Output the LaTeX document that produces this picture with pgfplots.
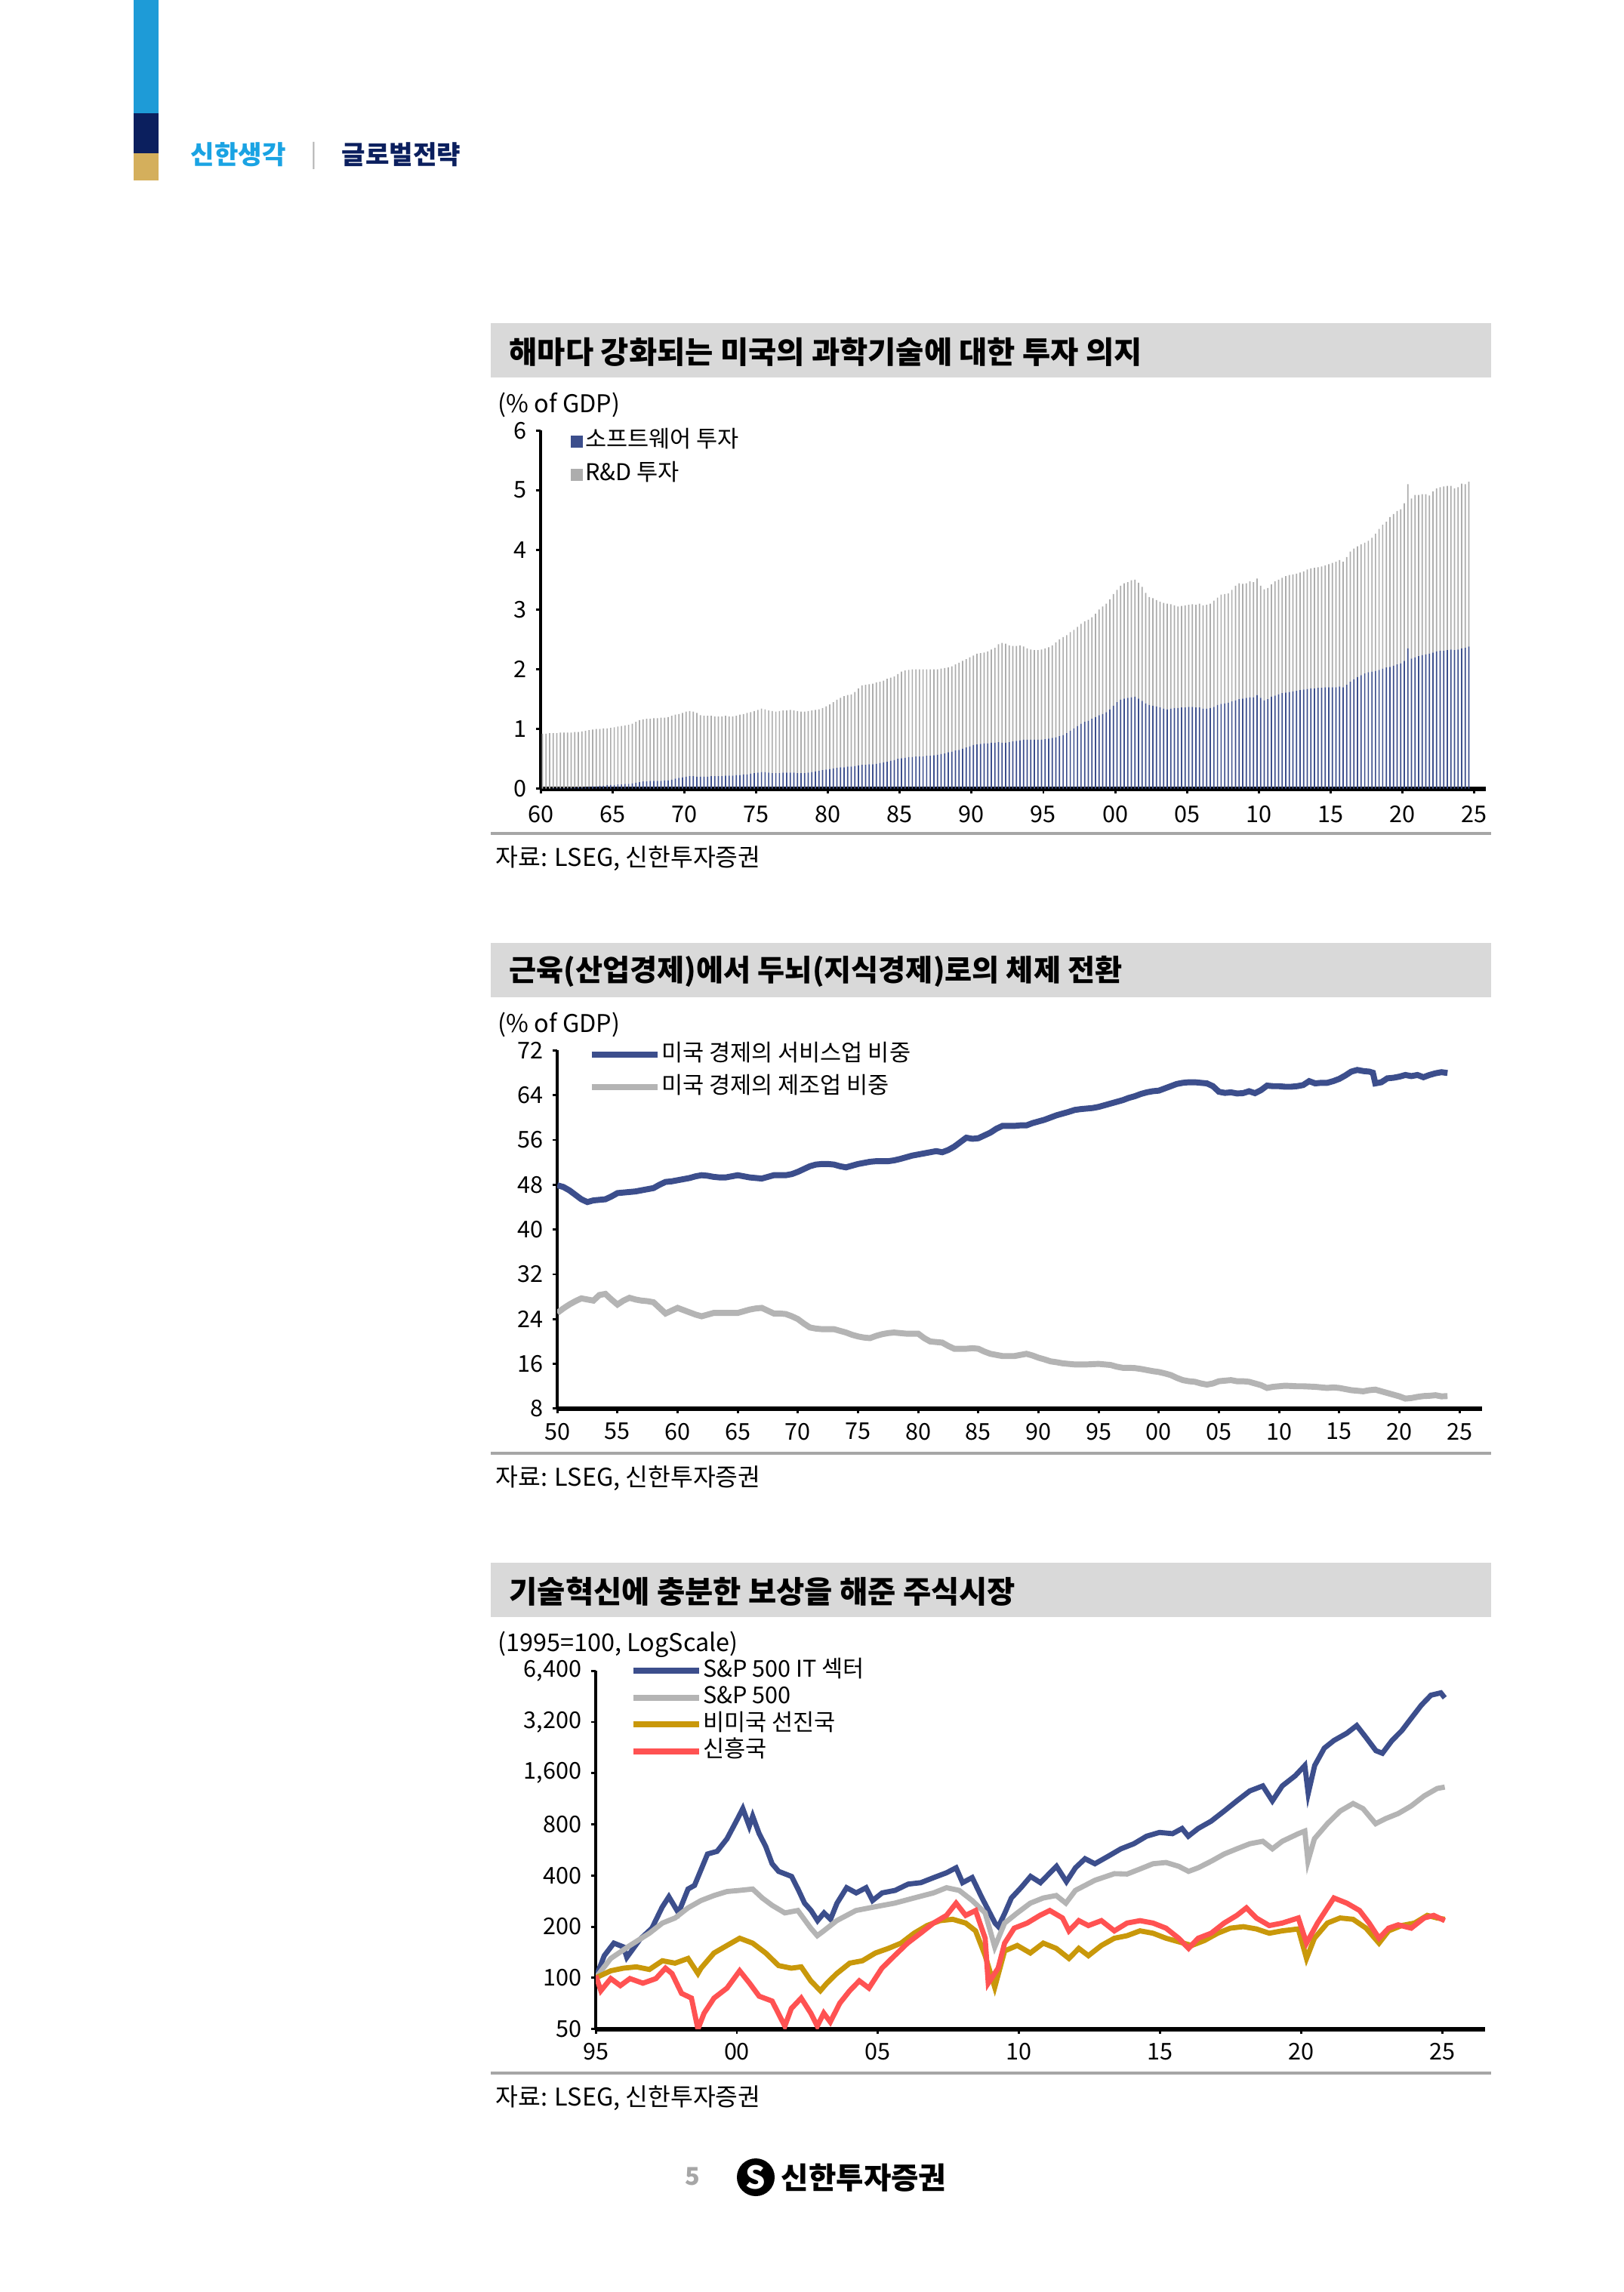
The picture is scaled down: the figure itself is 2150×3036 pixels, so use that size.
\documentclass[border=0pt]{standalone}
\usepackage{fontspec}
\usepackage{pgfplots}
\pgfplotsset{compat=1.18}
\usepackage{pgfplotstable}
\setmainfont{Noto Sans CJK KR}

\definecolor{navy}{HTML}{3C4E8C}
\definecolor{lgray}{HTML}{B4B4B4}
\definecolor{bargray}{HTML}{ADADAD}
\definecolor{gold}{HTML}{C9980A}
\definecolor{emred}{HTML}{FF5252}
\definecolor{boxgray}{HTML}{D9D9D9}
\definecolor{rulegray}{HTML}{A6A6A6}
\definecolor{hblue}{HTML}{1E9BD7}
\definecolor{hnavy}{HTML}{0B1F5E}
\definecolor{hgold}{HTML}{D4AF5C}
\definecolor{tblue}{HTML}{1AA3E3}

\newcommand\ticksize{\fontsize{8.5}{10}\selectfont}

% quarterly, % of GDP: x, software, R&D
\pgfplotstableread[row sep=\\]{
x s r\\
1960.125 0.00 0.92\\ 1960.375 0.00 0.92\\ 1960.625 0.00 0.93\\ 1960.875 0.01 0.92\\
1961.125 0.01 0.92\\ 1961.375 0.01 0.93\\ 1961.625 0.01 0.93\\ 1961.875 0.01 0.93\\
1962.125 0.01 0.93\\ 1962.375 0.02 0.93\\ 1962.625 0.02 0.93\\ 1962.875 0.02 0.94\\
1963.125 0.03 0.94\\ 1963.375 0.03 0.95\\ 1963.625 0.04 0.95\\ 1963.875 0.04 0.96\\
1964.125 0.05 0.95\\ 1964.375 0.05 0.96\\ 1964.625 0.06 0.95\\ 1964.875 0.06 0.96\\
1965.125 0.06 0.97\\ 1965.375 0.07 0.97\\ 1965.625 0.07 0.98\\ 1965.875 0.08 0.98\\
1966.125 0.08 0.99\\ 1966.375 0.09 1.00\\ 1966.625 0.10 1.02\\ 1966.875 0.11 1.04\\
1967.125 0.12 1.04\\ 1967.375 0.12 1.05\\ 1967.625 0.13 1.04\\ 1967.875 0.13 1.05\\
1968.125 0.13 1.05\\ 1968.375 0.13 1.06\\ 1968.625 0.14 1.05\\ 1968.875 0.14 1.06\\
1969.125 0.15 1.07\\ 1969.375 0.17 1.07\\ 1969.625 0.18 1.07\\ 1969.875 0.19 1.08\\
1970.125 0.20 1.09\\ 1970.375 0.21 1.09\\ 1970.625 0.21 1.08\\ 1970.875 0.20 1.07\\
1971.125 0.20 1.03\\ 1971.375 0.20 1.02\\ 1971.625 0.20 1.02\\ 1971.875 0.21 1.01\\
1972.125 0.21 1.00\\ 1972.375 0.21 1.00\\ 1972.625 0.21 1.00\\ 1972.875 0.22 1.00\\
1973.125 0.22 0.99\\ 1973.375 0.22 0.99\\ 1973.625 0.23 0.99\\ 1973.875 0.23 1.01\\
1974.125 0.24 1.01\\ 1974.375 0.24 1.03\\ 1974.625 0.25 1.03\\ 1974.875 0.26 1.04\\
1975.125 0.27 1.05\\ 1975.375 0.28 1.06\\ 1975.625 0.28 1.05\\ 1975.875 0.27 1.04\\
1976.125 0.26 1.04\\ 1976.375 0.26 1.03\\ 1976.625 0.26 1.04\\ 1976.875 0.27 1.04\\
1977.125 0.27 1.04\\ 1977.375 0.27 1.05\\ 1977.625 0.27 1.04\\ 1977.875 0.26 1.04\\
1978.125 0.26 1.03\\ 1978.375 0.26 1.03\\ 1978.625 0.27 1.03\\ 1978.875 0.28 1.03\\
1979.125 0.29 1.03\\ 1979.375 0.30 1.03\\ 1979.625 0.31 1.04\\ 1979.875 0.32 1.06\\
1980.125 0.33 1.08\\ 1980.375 0.34 1.11\\ 1980.625 0.35 1.14\\ 1980.875 0.36 1.16\\
1981.125 0.36 1.19\\ 1981.375 0.37 1.20\\ 1981.625 0.37 1.21\\ 1981.875 0.38 1.24\\
1982.125 0.39 1.29\\ 1982.375 0.40 1.33\\ 1982.625 0.40 1.34\\ 1982.875 0.41 1.34\\
1983.125 0.41 1.35\\ 1983.375 0.42 1.36\\ 1983.625 0.43 1.36\\ 1983.875 0.44 1.37\\
1984.125 0.45 1.39\\ 1984.375 0.47 1.39\\ 1984.625 0.48 1.40\\ 1984.875 0.50 1.42\\
1985.125 0.51 1.45\\ 1985.375 0.52 1.46\\ 1985.625 0.53 1.46\\ 1985.875 0.53 1.47\\
1986.125 0.54 1.46\\ 1986.375 0.54 1.46\\ 1986.625 0.54 1.46\\ 1986.875 0.55 1.45\\
1987.125 0.55 1.45\\ 1987.375 0.56 1.44\\ 1987.625 0.57 1.43\\ 1987.875 0.58 1.43\\
1988.125 0.59 1.43\\ 1988.375 0.61 1.42\\ 1988.625 0.62 1.43\\ 1988.875 0.64 1.44\\
1989.125 0.65 1.46\\ 1989.375 0.67 1.47\\ 1989.625 0.69 1.48\\ 1989.875 0.71 1.49\\
1990.125 0.73 1.50\\ 1990.375 0.74 1.52\\ 1990.625 0.75 1.52\\ 1990.875 0.76 1.52\\
1991.125 0.76 1.54\\ 1991.375 0.77 1.56\\ 1991.625 0.77 1.59\\ 1991.875 0.78 1.64\\
1992.125 0.77 1.67\\ 1992.375 0.77 1.66\\ 1992.625 0.78 1.62\\ 1992.875 0.79 1.60\\
1993.125 0.80 1.59\\ 1993.375 0.81 1.59\\ 1993.625 0.82 1.56\\ 1993.875 0.82 1.53\\
1994.125 0.82 1.51\\ 1994.375 0.82 1.50\\ 1994.625 0.82 1.50\\ 1994.875 0.82 1.51\\
1995.125 0.83 1.52\\ 1995.375 0.84 1.53\\ 1995.625 0.85 1.55\\ 1995.875 0.86 1.59\\
1996.125 0.88 1.62\\ 1996.375 0.90 1.64\\ 1996.625 0.93 1.64\\ 1996.875 0.97 1.65\\
1997.125 1.01 1.65\\ 1997.375 1.05 1.66\\ 1997.625 1.09 1.67\\ 1997.875 1.12 1.68\\
1998.125 1.14 1.69\\ 1998.375 1.17 1.70\\ 1998.625 1.20 1.73\\ 1998.875 1.23 1.77\\
1999.125 1.25 1.80\\ 1999.375 1.28 1.82\\ 1999.625 1.33 1.84\\ 1999.875 1.39 1.87\\
2000.125 1.45 1.88\\ 2000.375 1.49 1.91\\ 2000.625 1.51 1.93\\ 2000.875 1.52 1.94\\
2001.125 1.53 1.96\\ 2001.375 1.54 1.96\\ 2001.625 1.51 1.94\\ 2001.875 1.47 1.91\\
2002.125 1.43 1.85\\ 2002.375 1.40 1.81\\ 2002.625 1.39 1.80\\ 2002.875 1.38 1.78\\
2003.125 1.36 1.77\\ 2003.375 1.34 1.77\\ 2003.625 1.33 1.77\\ 2003.875 1.34 1.75\\
2004.125 1.35 1.72\\ 2004.375 1.35 1.70\\ 2004.625 1.36 1.70\\ 2004.875 1.36 1.71\\
2005.125 1.37 1.71\\ 2005.375 1.37 1.72\\ 2005.625 1.36 1.72\\ 2005.875 1.36 1.74\\
2006.125 1.34 1.73\\ 2006.375 1.34 1.74\\ 2006.625 1.35 1.75\\ 2006.875 1.37 1.78\\
2007.125 1.40 1.80\\ 2007.375 1.42 1.83\\ 2007.625 1.43 1.83\\ 2007.875 1.44 1.83\\
2008.125 1.46 1.87\\ 2008.375 1.48 1.92\\ 2008.625 1.50 1.94\\ 2008.875 1.51 1.92\\
2009.125 1.52 1.92\\ 2009.375 1.53 1.94\\ 2009.625 1.53 1.93\\ 2009.875 1.57 1.95\\
2010.125 1.52 1.88\\ 2010.375 1.48 1.86\\ 2010.625 1.50 1.86\\ 2010.875 1.54 1.88\\
2011.125 1.56 1.91\\ 2011.375 1.58 1.92\\ 2011.625 1.60 1.93\\ 2011.875 1.61 1.95\\
2012.125 1.62 1.96\\ 2012.375 1.63 1.96\\ 2012.625 1.64 1.96\\ 2012.875 1.65 1.97\\
2013.125 1.66 1.98\\ 2013.375 1.67 2.00\\ 2013.625 1.68 2.01\\ 2013.875 1.68 2.02\\
2014.125 1.69 2.02\\ 2014.375 1.69 2.03\\ 2014.625 1.70 2.04\\ 2014.875 1.70 2.06\\
2015.125 1.70 2.08\\ 2015.375 1.70 2.10\\ 2015.625 1.71 2.12\\ 2015.875 1.70 2.10\\
2016.125 1.74 2.14\\ 2016.375 1.79 2.18\\ 2016.625 1.83 2.19\\ 2016.875 1.87 2.19\\
2017.125 1.90 2.19\\ 2017.375 1.93 2.19\\ 2017.625 1.95 2.20\\ 2017.875 1.96 2.24\\
2018.125 1.97 2.30\\ 2018.375 1.99 2.36\\ 2018.625 2.01 2.41\\ 2018.875 2.03 2.44\\
2019.125 2.04 2.51\\ 2019.375 2.06 2.54\\ 2019.625 2.08 2.57\\ 2019.875 2.10 2.58\\
2020.125 2.14 2.64\\ 2020.375 2.35 2.75\\ 2020.625 2.18 2.68\\ 2020.875 2.20 2.72\\
2021.125 2.22 2.70\\ 2021.375 2.24 2.69\\ 2021.625 2.25 2.68\\ 2021.875 2.26 2.65\\
2022.125 2.28 2.70\\ 2022.375 2.30 2.73\\ 2022.625 2.31 2.74\\ 2022.875 2.31 2.75\\
2023.125 2.32 2.75\\ 2023.375 2.33 2.74\\ 2023.625 2.32 2.71\\ 2023.875 2.33 2.72\\
2024.125 2.35 2.76\\ 2024.375 2.36 2.74\\ 2024.625 2.38 2.76\\
}\rdtable

\pgfplotsset{
  pagechart/.style={
    scale only axis,
    anchor=south west,
    axis x line=bottom,
    axis y line=left,
    x axis line style={-, line width=1.6pt},
    y axis line style={-, line width=1pt},
    tick align=outside,
    major tick length=0.06cm,
    tick style={black, line width=0.8pt},
    ticklabel style={font=\ticksize},
    /pgf/number format/assume math mode=true,
    legend cell align=left,
    legend style={draw=none, fill=none, anchor=north west, inner sep=0pt,
      font=\ticksize, column sep=0.4pt,
      nodes={inner sep=0pt, text height=6.5pt, text depth=2pt}},
  },
  linelegend/.style={legend image code/.code={%
    \draw[##1, line width=2.2pt] (0cm,0cm) -- (0.85cm,0cm);}},
  sqlegend/.style={legend image code/.code={%
    \fill[##1] (0cm,-0.078cm) rectangle (0.156cm,0.078cm);}},
}

\begin{document}
\begin{tikzpicture}[x=0.0097674cm, y=-0.0097674cm]
\fill[white] (0,0) rectangle (2150,3036);

% page header
\fill[hblue] (177,0) rectangle (210,150);
\fill[hnavy] (177,150) rectangle (210,203);
\fill[hgold] (177,203) rectangle (210,239);
\node[anchor=west, inner sep=0pt, text=tblue, font=\fontsize{9.5}{11}\bfseries] at (252,205) {신한생각};
\node[anchor=center, inner sep=0pt, text=lgray, font=\fontsize{9}{11}\selectfont] at (416,206) {|};
\node[anchor=west, inner sep=0pt, text=hnavy, font=\fontsize{9.5}{11}\bfseries] at (452,205) {글로벌전략};

% chart panels: title bars, unit labels, source lines
\foreach \t/\fs/\ttl/\unit in {428/11.25/{해마다 강화되는 미국의 과학기술에 대한 투자 의지}/{(\% of GDP)},
  1249/10.9/{근육(산업경제)에서 두뇌(지식경제)로의 체제 전환}/{(\% of GDP)},
  2070/11.25/{기술혁신에 충분한 보상을 해준 주식시장}/{(1995=100, LogScale)}}{
  \fill[boxgray] (650,\t) rectangle (1975,\t+72);
  \node[anchor=west, inner sep=0pt, font=\fontsize{\fs}{13}\bfseries] at (674,\t+38) {\ttl};
  \node[anchor=west, inner sep=0pt, font=\fontsize{9}{11}\selectfont] at (659,\t+108) {\unit};
  \draw[rulegray, line width=1pt] (650,\t+676) -- (1975,\t+676);
  \node[anchor=west, inner sep=0pt, font=\fontsize{9}{11}\selectfont] at (656,\t+709) {자료: LSEG, 신한투자증권};
}

% chart 1
\begin{axis}[pagechart,
  at={(6.993cm,-10.202cm)}, width=12.229cm, height=4.635cm,
  ybar stacked, bar width=0.09,
  xmin=1960, xmax=2025.83, ymin=0, ymax=6,
  xtick={1960,1965,...,2025},
  xticklabels={60,65,70,75,80,85,90,95,00,05,10,15,20,25},
  xticklabel style={yshift=-1pt},
  ytick={0,1,...,6},
  legend style={at={(0.031,1.003)}, row sep=3.7pt, column sep=1pt},
]
\addplot[fill=navy, draw=none, sqlegend] table[x=x, y=s] {\rdtable};
\addlegendentry{소프트웨어 투자}
\addplot[fill=bargray, draw=none, sqlegend] table[x=x, y=r] {\rdtable};
\addlegendentry{R\&D 투자}
\end{axis}

% chart 2
\begin{axis}[pagechart,
  at={(7.208cm,-18.221cm)}, width=11.965cm, height=4.635cm,
  xmin=1950, xmax=2026.9, ymin=8, ymax=72,
  xtick={1950,1955,...,2025},
  xticklabels={50,55,60,65,70,75,80,85,90,95,00,05,10,15,20,25},
  ytick={8,16,...,72},
  legend style={at={(0.0333,1.021)}, row sep=3.4pt},
]
\addplot[navy, line width=2.2pt, linelegend] coordinates {
(1950.0,47.9) (1950.5,47.6) (1951.0,47.0) (1951.5,46.2) (1952.0,45.4) (1952.5,44.9)
(1953.0,45.2) (1953.5,45.3) (1954.0,45.4) (1954.5,45.9) (1955.0,46.5) (1955.5,46.6)
(1956.0,46.7) (1956.5,46.8) (1957.0,47.0) (1957.5,47.2) (1958.0,47.4) (1958.5,48.0)
(1959.0,48.5) (1959.5,48.6) (1960.0,48.8) (1960.5,49.0) (1961.0,49.2) (1961.5,49.5)
(1962.0,49.7) (1962.5,49.6) (1963.0,49.4) (1963.5,49.3) (1964.0,49.3) (1964.5,49.5)
(1965.0,49.7) (1965.5,49.5) (1966.0,49.3) (1966.5,49.2) (1967.0,49.1) (1967.5,49.4)
(1968.0,49.7) (1968.5,49.7) (1969.0,49.7) (1969.5,49.9) (1970.0,50.3) (1970.5,50.8)
(1971.0,51.3) (1971.5,51.6) (1972.0,51.7) (1972.5,51.7) (1973.0,51.6) (1973.5,51.3)
(1974.0,51.1) (1974.5,51.4) (1975.0,51.7) (1975.5,51.9) (1976.0,52.1) (1976.5,52.2)
(1977.0,52.2) (1977.5,52.2) (1978.0,52.35) (1978.5,52.6) (1979.0,52.9) (1979.5,53.2)
(1980.0,53.4) (1980.5,53.6) (1981.0,53.8) (1981.5,54.0) (1982.0,53.8) (1982.5,54.2)
(1983.0,54.8) (1983.5,55.6) (1984.0,56.4) (1984.5,56.2) (1985.0,56.3) (1985.5,56.8)
(1986.0,57.3) (1986.5,58.0) (1987.0,58.5) (1987.5,58.5) (1988.0,58.5) (1988.5,58.6)
(1989.0,58.6) (1989.5,59.0) (1990.0,59.3) (1990.5,59.6) (1991.0,60.0) (1991.5,60.4)
(1992.0,60.7) (1992.5,61.0) (1993.0,61.35) (1993.5,61.5) (1994.0,61.6) (1994.5,61.7)
(1995.0,61.9) (1995.5,62.2) (1996.0,62.5) (1996.5,62.8) (1997.0,63.1) (1997.5,63.5)
(1998.0,63.8) (1998.5,64.2) (1999.0,64.5) (1999.5,64.7) (2000.0,64.8) (2000.5,65.2)
(2001.0,65.6) (2001.5,66.0) (2002.0,66.2) (2002.5,66.3) (2003.0,66.3) (2003.5,66.2)
(2004.0,66.1) (2004.5,65.6) (2005.0,64.6) (2005.5,64.4) (2006.0,64.5) (2006.5,64.3)
(2007.0,64.35) (2007.5,64.7) (2008.0,64.35) (2008.5,64.9) (2009.0,65.7) (2009.5,65.6)
(2010.0,65.6) (2010.5,65.5) (2011.0,65.5) (2011.5,65.6) (2012.0,65.8) (2012.5,66.5)
(2013.0,66.1) (2013.5,66.2) (2014.0,66.2) (2014.5,66.5) (2015.0,66.9) (2015.5,67.5)
(2016.0,68.2) (2016.5,68.5) (2017.0,68.3) (2017.5,68.2) (2017.8,68.0) (2018.0,66.1)
(2018.5,66.3) (2019.0,67.0) (2019.5,67.1) (2020.0,67.3) (2020.5,67.6) (2021.0,67.4)
(2021.5,67.6) (2022.0,67.2) (2022.5,67.6) (2023.0,67.9) (2023.5,68.1) (2024.0,67.95)
};
\addlegendentry{미국 경제의 서비스업 비중}
\addplot[lgray, line width=2.2pt, linelegend] coordinates {
(1950.0,25.1) (1950.5,25.9) (1951.0,26.6) (1951.5,27.2) (1952.0,27.7) (1952.5,27.5)
(1953.0,27.3) (1953.5,28.3) (1954.0,28.5) (1954.5,27.5) (1955.0,26.6) (1955.5,27.3)
(1956.0,27.8) (1956.5,27.5) (1957.0,27.3) (1957.5,27.2) (1958.0,27.0) (1958.5,26.0)
(1959.0,25.0) (1959.5,25.5) (1960.0,26.0) (1960.5,25.6) (1961.0,25.2) (1961.5,24.8)
(1962.0,24.5) (1962.5,24.8) (1963.0,25.1) (1963.5,25.1) (1964.0,25.1) (1964.5,25.1)
(1965.0,25.1) (1965.5,25.4) (1966.0,25.7) (1966.5,25.9) (1967.0,26.0) (1967.5,25.5)
(1968.0,25.0) (1968.5,25.0) (1969.0,24.9) (1969.5,24.5) (1970.0,24.0) (1970.5,23.2)
(1971.0,22.5) (1971.5,22.3) (1972.0,22.2) (1972.5,22.2) (1973.0,22.2) (1973.5,21.9)
(1974.0,21.6) (1974.5,21.2) (1975.0,20.9) (1975.5,20.7) (1976.0,20.6) (1976.5,21.0)
(1977.0,21.3) (1977.5,21.5) (1978.0,21.6) (1978.5,21.5) (1979.0,21.4) (1979.5,21.4)
(1980.0,21.4) (1980.5,20.6) (1981.0,20.0) (1981.5,19.9) (1982.0,19.8) (1982.5,19.2)
(1983.0,18.7) (1983.5,18.7) (1984.0,18.7) (1984.5,18.8) (1985.0,18.7) (1985.5,18.2)
(1986.0,17.8) (1986.5,17.6) (1987.0,17.4) (1987.5,17.4) (1988.0,17.4) (1988.5,17.6)
(1989.0,17.8) (1989.5,17.5) (1990.0,17.1) (1990.5,16.8) (1991.0,16.45) (1991.5,16.3)
(1992.0,16.1) (1992.5,16.0) (1993.0,15.9) (1993.5,15.9) (1994.0,15.9) (1994.5,15.95)
(1995.0,16.0) (1995.5,15.9) (1996.0,15.8) (1996.5,15.5) (1997.0,15.3) (1997.5,15.3)
(1998.0,15.25) (1998.5,15.1) (1999.0,14.9) (1999.5,14.7) (2000.0,14.55) (2000.5,14.3)
(2001.0,14.0) (2001.5,13.5) (2002.0,13.1) (2002.5,12.9) (2003.0,12.8) (2003.5,12.5)
(2004.0,12.3) (2004.5,12.5) (2005.0,12.9) (2005.5,13.0) (2006.0,13.1) (2006.5,12.9)
(2007.0,12.9) (2007.5,12.8) (2008.0,12.5) (2008.5,12.2) (2009.0,11.7) (2009.5,11.9)
(2010.0,12.0) (2010.5,12.1) (2011.0,12.05) (2011.5,12.0) (2012.0,12.0) (2012.5,11.95)
(2013.0,11.9) (2013.5,11.8) (2014.0,11.7) (2014.5,11.8) (2015.0,11.7) (2015.5,11.5)
(2016.0,11.3) (2016.5,11.2) (2017.0,11.1) (2017.5,11.3) (2018.0,11.4) (2018.5,11.1)
(2019.0,10.8) (2019.5,10.5) (2020.0,10.2) (2020.5,9.8) (2021.0,9.9) (2021.5,10.1)
(2022.0,10.25) (2022.5,10.3) (2023.0,10.4) (2023.5,10.2) (2024.0,10.25)
};
\addlegendentry{미국 경제의 제조업 비중}
\end{axis}

% chart 3
\begin{axis}[pagechart,
  at={(7.706cm,-26.245cm)}, width=11.506cm, height=4.633cm,
  ymode=log,
  xmin=1995, xmax=2026.53, ymin=50, ymax=6400,
  xtick={1995,2000,...,2025},
  xticklabels={95,00,05,10,15,20,25},
  ytick={50,100,200,400,800,1600,3200,6400},
  yticklabels={50,100,200,400,800,{1,600},{3,200},{6,400}},
  legend style={at={(0.0382,1.034)}, row sep=1.36pt},
]
\addplot[navy, line width=1.9pt, linelegend] coordinates {
(1995.00,100) (1995.30,135) (1995.64,160) (1995.98,152) (1996.10,132) (1996.56,168)
(1996.99,196) (1997.35,260) (1997.59,300) (1997.93,241) (1998.27,333) (1998.50,350)
(1998.96,535) (1999.30,555) (1999.65,658) (1999.98,835) (2000.21,990) (2000.44,780)
(2000.56,894) (2000.79,705) (2001.02,594) (2001.25,469) (2001.48,423) (2001.94,395)
(2002.17,332) (2002.40,275) (2002.63,249) (2002.86,217) (2003.09,241) (2003.32,221)
(2003.55,275) (2003.89,339) (2004.23,316) (2004.58,339) (2004.81,285) (2005.15,316)
(2005.61,327) (2006.07,356) (2006.52,363) (2006.98,389) (2007.43,415) (2007.77,444)
(2008.00,363) (2008.34,389) (2008.69,295) (2008.92,249) (2009.15,210) (2009.27,200)
(2009.50,241) (2009.73,295) (2010.07,339) (2010.41,395) (2010.76,363) (2011.10,415)
(2011.33,453) (2011.68,368) (2012.00,444) (2012.34,502) (2012.69,469) (2013.15,518)
(2013.61,574) (2014.07,615) (2014.52,681) (2014.98,717) (2015.44,705) (2015.78,756)
(2016.00,681) (2016.35,756) (2016.81,835) (2017.27,957) (2017.72,1099) (2018.18,1258)
(2018.64,1346) (2018.98,1099) (2019.33,1346) (2019.79,1545) (2020.13,1775) (2020.25,1215)
(2020.48,1775) (2020.82,2245) (2021.16,2490) (2021.62,2750) (2021.97,3050) (2022.31,2580)
(2022.65,2170) (2022.88,2095) (2023.22,2490) (2023.57,2850) (2023.91,3380) (2024.26,4020)
(2024.60,4600) (2024.95,4750) (2025.09,4440)
};
\addlegendentry{S\&P 500 IT 섹터}
\addplot[lgray, line width=1.9pt, linelegend] coordinates {
(1995.00,100) (1995.53,130) (1996.21,155) (1996.90,183) (1997.36,210) (1997.81,225)
(1998.27,258) (1998.73,285) (1999.19,305) (1999.65,322) (2000.10,327) (2000.56,333)
(2000.90,295) (2001.25,267) (2001.70,241) (2002.16,249) (2002.62,196) (2002.85,177)
(2003.08,189) (2003.54,217) (2004.22,249) (2004.91,262) (2005.59,275) (2006.28,295)
(2006.97,316) (2007.43,339) (2007.88,327) (2008.34,285) (2008.80,241) (2009.14,152)
(2009.49,210) (2009.94,241) (2010.40,275) (2010.86,295) (2011.32,305) (2011.66,275)
(2012.00,327) (2012.69,375) (2013.38,410) (2013.83,408) (2014.29,437) (2014.75,469)
(2015.21,477) (2015.66,453) (2016.01,423) (2016.35,444) (2016.81,485) (2017.27,535)
(2017.72,574) (2018.18,615) (2018.64,636) (2018.98,574) (2019.33,636) (2019.90,705)
(2020.13,730) (2020.24,485) (2020.47,658) (2020.93,807) (2021.38,957) (2021.84,1060)
(2022.19,991) (2022.64,807) (2022.99,864) (2023.44,926) (2023.90,1026) (2024.36,1175)
(2024.82,1300) (2025.09,1325)
};
\addlegendentry{S\&P 500}
\addplot[gold, line width=1.9pt, linelegend] coordinates {
(1995.00,100) (1995.53,110) (1995.98,114) (1996.44,116) (1996.90,112) (1997.36,126)
(1997.81,122) (1998.27,130) (1998.62,106) (1998.73,114) (1999.19,140) (1999.65,155)
(2000.10,171) (2000.56,160) (2001.02,140) (2001.48,118) (2001.93,114) (2002.28,116)
(2002.62,96) (2002.96,84) (2003.19,93) (2003.54,106) (2004.00,122) (2004.45,126)
(2004.91,140) (2005.37,149) (2005.82,160) (2006.28,183) (2006.74,203) (2007.20,217)
(2007.65,221) (2008.11,210) (2008.46,189) (2008.80,135) (2009.14,88) (2009.49,144)
(2009.94,155) (2010.40,140) (2010.86,160) (2011.32,149) (2011.77,130) (2012.12,149)
(2012.46,135) (2012.92,155) (2013.38,171) (2013.83,177) (2014.29,189) (2014.75,183)
(2015.21,171) (2015.66,163) (2016.12,155) (2016.58,166) (2017.04,183) (2017.49,196)
(2017.95,200) (2018.41,194) (2018.87,183) (2019.33,189) (2019.90,194) (2020.19,130)
(2020.47,171) (2020.93,210) (2021.38,225) (2021.84,221) (2022.30,196) (2022.76,160)
(2023.10,189) (2023.56,203) (2024.02,210) (2024.47,233) (2024.82,225) (2025.09,221)
};
\addlegendentry{비미국 선진국}
\addplot[emred, line width=1.9pt, linelegend] coordinates {
(1995.00,103) (1995.18,84) (1995.53,99) (1995.87,90) (1996.21,99) (1996.67,93)
(1997.13,99) (1997.47,114) (1997.70,106) (1998.04,81) (1998.39,76) (1998.62,50)
(1998.84,62) (1999.19,76) (1999.65,87) (2000.10,110) (2000.45,93) (2000.79,78)
(2001.25,73) (2001.70,52) (2001.93,66) (2002.28,76) (2002.62,62) (2002.85,52)
(2003.08,62) (2003.31,55) (2003.65,71) (2004.00,84) (2004.34,96) (2004.68,87)
(2005.14,114) (2005.59,135) (2006.05,160) (2006.51,183) (2006.97,210) (2007.43,233)
(2007.77,275) (2008.11,233) (2008.46,249) (2008.80,171) (2008.91,93) (2009.26,114)
(2009.49,160) (2009.83,196) (2010.29,210) (2010.74,233) (2011.09,249) (2011.54,225)
(2011.77,189) (2012.12,217) (2012.46,203) (2012.92,217) (2013.38,189) (2013.83,210)
(2014.29,217) (2014.75,210) (2015.21,196) (2015.66,171) (2016.01,149) (2016.35,171)
(2016.81,183) (2017.27,210) (2017.72,233) (2018.06,258) (2018.41,225) (2018.87,203)
(2019.33,210) (2019.90,225) (2020.19,160) (2020.58,210) (2020.93,258) (2021.16,295)
(2021.62,275) (2022.07,249) (2022.41,210) (2022.76,171) (2023.10,196) (2023.44,205)
(2023.90,196) (2024.36,225) (2024.70,233) (2025.09,217)
};
\addlegendentry{신흥국}
\end{axis}

% footer
\node[anchor=center, inner sep=0pt, text=rulegray, font=\fontsize{9}{11}\bfseries] at (917,2883) {5};
\fill[black] (1001,2884) circle (25);
\node[anchor=center, inner sep=0pt, text=white, font=\fontsize{11.5}{13}\bfseries] at (1001,2884) {S};
\node[anchor=west, inner sep=0pt, font=\fontsize{11}{13}\bfseries] at (1034,2885) {신한투자증권};
\end{tikzpicture}
\end{document}
